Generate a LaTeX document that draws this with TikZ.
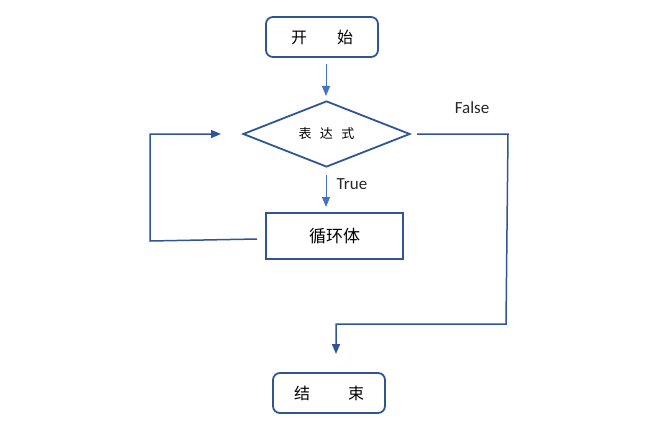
\documentclass[tikz,border=0pt]{standalone}
\usepackage{fontspec}
\setmainfont{Carlito}
\newfontfamily\cjk{Noto Sans CJK SC}
\usetikzlibrary{shapes.geometric,arrows.meta}
\definecolor{dblue}{HTML}{2F5597}
\definecolor{lblue}{HTML}{4472C4}
\tikzset{
  termbox/.style={draw=dblue,line width=1.8pt,rounded corners=7pt,minimum width=112pt,minimum height=40pt,inner sep=0pt,font=\cjk\fontsize{16}{16}\selectfont},
  bodybox/.style={draw=dblue,line width=1.8pt,minimum width=137pt,minimum height=46pt,inner sep=0pt,font=\cjk\fontsize{17}{17}\selectfont},
  condbox/.style={draw=dblue,line width=1.8pt,diamond,aspect=2.55,minimum width=167pt,minimum height=66pt,inner sep=0pt,font=\cjk\fontsize{13}{13}\selectfont},
  shortarrow/.style={draw=lblue,line width=1pt,-{Triangle[width=8pt,length=10pt]}},
  loopline/.style={draw=dblue,line width=1.5pt,-{Triangle[width=8pt,length=10pt]}},
  lbl/.style={font=\fontsize{17}{17}\selectfont,text=black!85,inner sep=0pt}
}
\begin{document}
\begin{tikzpicture}[x=1pt,y=-1pt]
\useasboundingbox (0,0) rectangle (668,433);
\node[termbox] (start) at (322,37) {开\hspace{30pt}始};
\node[condbox] (cond) at (326.5,134) {表\hspace{8.5pt}达\hspace{8.5pt}式};
\node[bodybox] (body) at (334.5,236) {循环体};
\node[termbox] (stop) at (329,393) {结\hspace{38pt}束};
\node[lbl] (truelbl) at (352,184) {True};
\node[lbl] (falselbl) at (472,108) {False};
\coordinate (a1s) at (326,64);
\coordinate (a1e) at (326,96);
\draw[shortarrow] (a1s) -- (a1e);
\coordinate (a2s) at (326,175);
\coordinate (a2e) at (326,207);
\draw[shortarrow] (a2s) -- (a2e);
\coordinate (fbs) at (257,239);
\coordinate (fb1) at (150,241);
\coordinate (fbe) at (221,134);
\draw[loopline] (fbs) -- (fb1) |- (fbe);
\coordinate (fs) at (417,134);
\coordinate (f1) at (508,134);
\coordinate (f2) at (506,324);
\coordinate (fe) at (336,354);
\draw[loopline] (fs) -- (f1) -- (f2) -| (fe);
\end{tikzpicture}
\end{document}
